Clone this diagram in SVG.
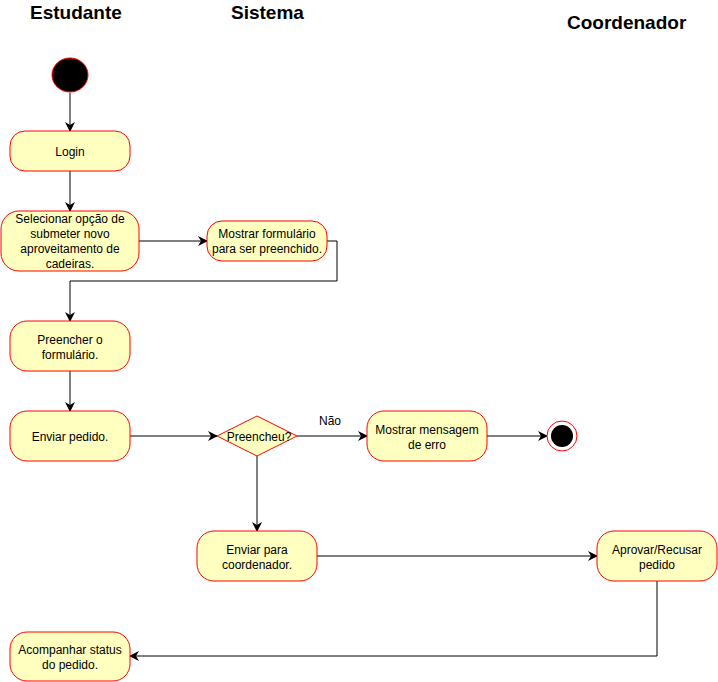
<svg xmlns="http://www.w3.org/2000/svg" width="718" height="682" viewBox="0 0 718 682">
<style>
.t{font-family:"Liberation Sans",Arial,sans-serif;font-weight:bold;font-size:19px;fill:#000}
.n rect,.n polygon{fill:#ffffc0;stroke:#ff0000;stroke-width:1}
.n text,.lbl{font-family:"Liberation Sans",Arial,sans-serif;font-size:12px;fill:#000;text-anchor:middle}
.c path{fill:none;stroke:#000;stroke-width:1}
</style>
<defs>
<marker id="a" viewBox="0 0 10 10" refX="9" refY="5" markerWidth="10" markerHeight="10" markerUnits="userSpaceOnUse" orient="auto">
<path d="M0,0 L10,5 L0,10 L3,5 Z" fill="#000"/>
</marker>
</defs>
<rect width="718" height="682" fill="#fff"/>
<text class="t" x="30" y="19">Estudante</text>
<text class="t" x="231" y="19">Sistema</text>
<text class="t" x="567" y="29">Coordenador</text>

<g class="c">
<path d="M70,93 L70,131" marker-end="url(#a)"/>
<path d="M70,171 L70,211" marker-end="url(#a)"/>
<path d="M139,241 L207,241" marker-end="url(#a)"/>
<path d="M327,241 L337,241 L337,281 L70,281 L70,321" marker-end="url(#a)"/>
<path d="M70,371 L70,411" marker-end="url(#a)"/>
<path d="M130,436 L217,436" marker-end="url(#a)"/>
<path d="M297,436 L367,436" marker-end="url(#a)"/>
<path d="M487,436 L547,436" marker-end="url(#a)"/>
<path d="M257,456 L257,531" marker-end="url(#a)"/>
<path d="M317,556 L597,556" marker-end="url(#a)"/>
<path d="M657,581 L657,656 L130,656" marker-end="url(#a)"/>
</g>
<text class="lbl" x="330" y="425">Não</text>

<g id="start"><ellipse cx="70" cy="75" rx="18" ry="17" fill="#000" stroke="#ff0000"/></g>
<g id="login" class="n"><rect x="10" y="131" width="120" height="40" rx="15"/><text x="70" y="156">Login</text></g>
<g id="selecionar" class="n"><rect x="1" y="211" width="138" height="60" rx="18"/>
<text x="70" y="223">Selecionar opção de</text><text x="70" y="238">submeter novo</text><text x="70" y="253">aproveitamento de</text><text x="70" y="268">cadeiras.</text></g>
<g id="mostrarform" class="n"><rect x="207" y="221" width="120" height="40" rx="15"/>
<text x="267" y="238">Mostrar formulário</text><text x="267" y="253">para ser preenchido.</text></g>
<g id="preencher" class="n"><rect x="10" y="321" width="120" height="50" rx="17"/>
<text x="70" y="344">Preencher o</text><text x="70" y="359">formulário.</text></g>
<g id="enviar" class="n"><rect x="10" y="411" width="120" height="50" rx="17"/><text x="70" y="441">Enviar pedido.</text></g>
<g id="decisao" class="n"><polygon points="257,416 297,436 257,456 217,436"/><text x="259" y="441">Preencheu?</text></g>
<g id="erro" class="n"><rect x="367" y="411" width="120" height="50" rx="17"/>
<text x="427" y="434">Mostrar mensagem</text><text x="427" y="449">de erro</text></g>
<g id="end"><circle cx="562" cy="436" r="15" fill="#fff" stroke="#ff0000"/><circle cx="562" cy="436" r="11" fill="#000"/></g>
<g id="enviarcoord" class="n"><rect x="197" y="531" width="120" height="50" rx="17"/>
<text x="257" y="554">Enviar para</text><text x="257" y="569">coordenador.</text></g>
<g id="aprovar" class="n"><rect x="597" y="531" width="120" height="50" rx="17"/>
<text x="657" y="554">Aprovar/Recusar</text><text x="657" y="569">pedido</text></g>
<g id="acompanhar" class="n"><rect x="10" y="632" width="120" height="49" rx="17"/>
<text x="70" y="654">Acompanhar status</text><text x="70" y="669">do pedido.</text></g>
</svg>
